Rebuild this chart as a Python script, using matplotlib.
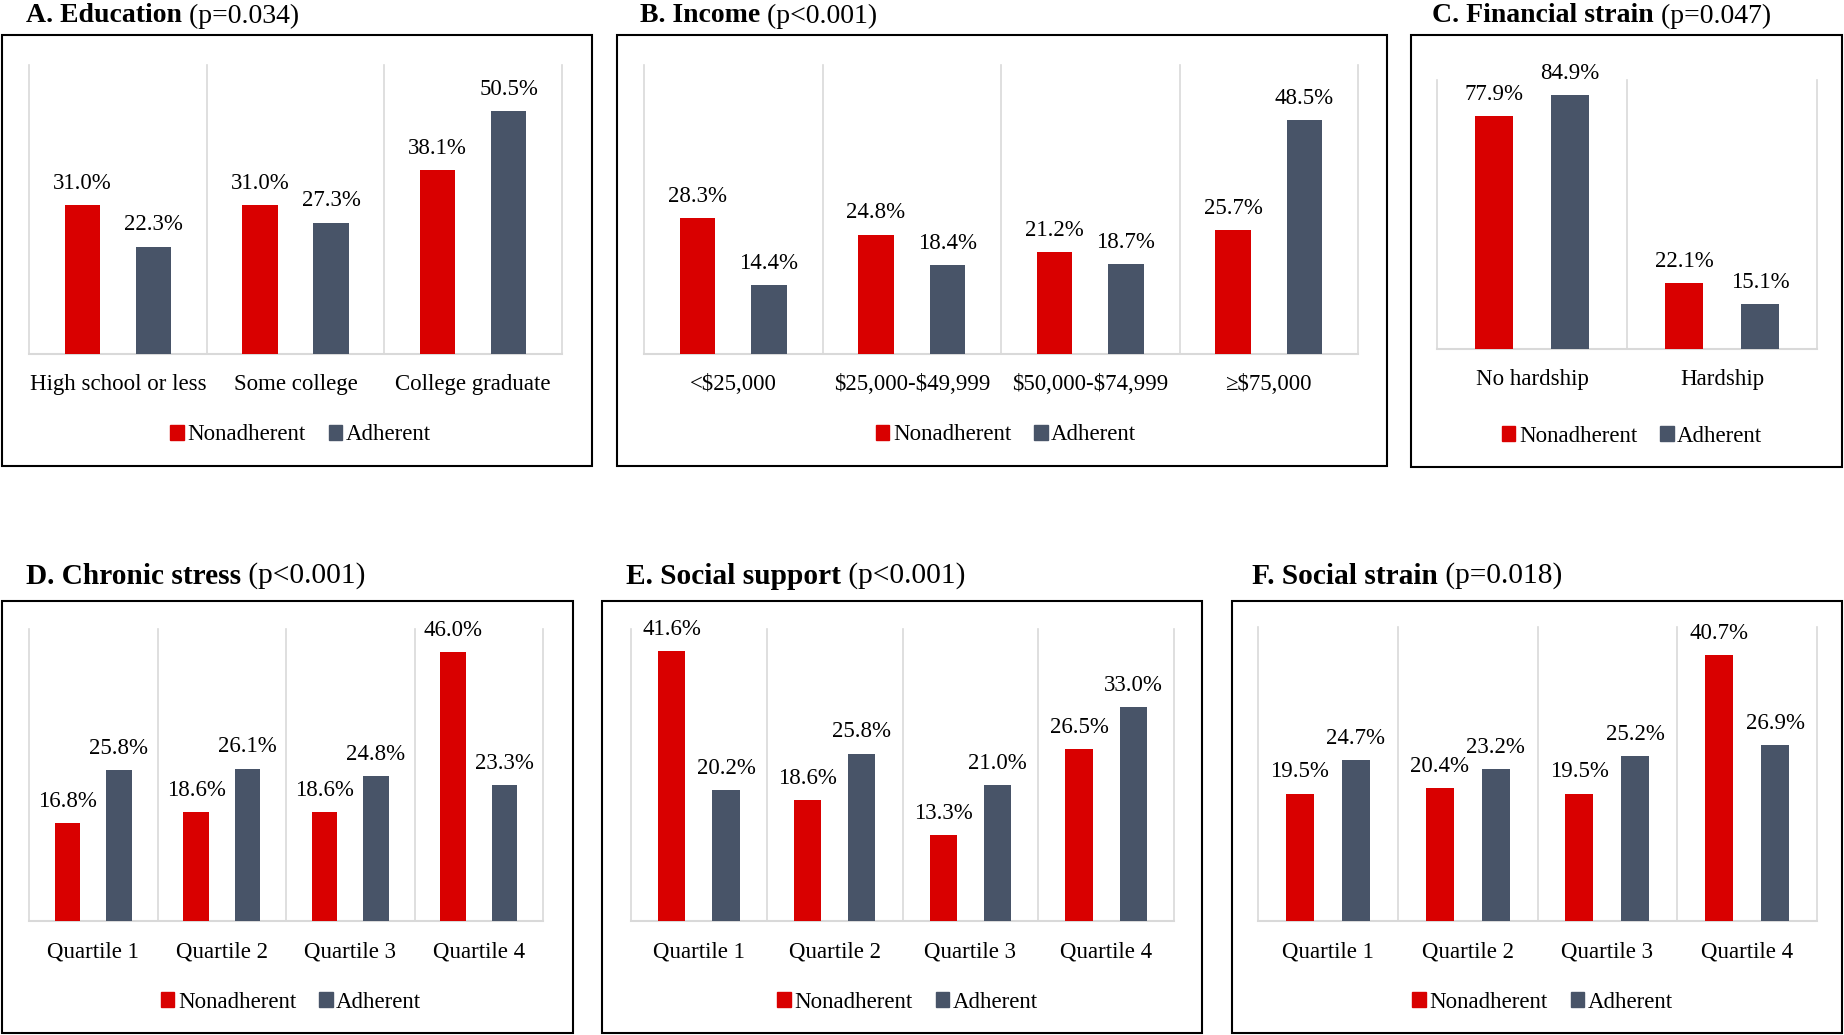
import matplotlib.pyplot as plt
from matplotlib.patches import Rectangle, Patch

plt.rcParams['font.family'] = ['Liberation Serif', 'DejaVu Serif']

W, H = 1844, 1035
RED = '#D90000'
GRAY = '#485468'
GRID = '#D9D9D9'

# data
edu_cats = ['High school or less', 'Some college', 'College graduate']
edu_non = [31.0, 31.0, 38.1]
edu_adh = [22.3, 27.3, 50.5]

inc_cats = [r'<\$25,000', r'\$25,000-\$49,999', r'\$50,000-\$74,999', '\u2265\\$75,000']
inc_non = [28.3, 24.8, 21.2, 25.7]
inc_adh = [14.4, 18.4, 18.7, 48.5]

fin_cats = ['No hardship', 'Hardship']
fin_non = [77.9, 22.1]
fin_adh = [84.9, 15.1]

quart_cats = ['Quartile 1', 'Quartile 2', 'Quartile 3', 'Quartile 4']
stress_non = [16.8, 18.6, 18.6, 46.0]
stress_adh = [25.8, 26.1, 24.8, 23.3]
supp_non = [41.6, 18.6, 13.3, 26.5]
supp_adh = [20.2, 25.8, 21.0, 33.0]
sstrain_non = [19.5, 20.4, 19.5, 40.7]
sstrain_adh = [24.7, 23.2, 25.2, 26.9]

fig = plt.figure(figsize=(W / 100, H / 100), dpi=100)


def px_rect(x0, y0, x1, y1):
    return [x0 / W, 1 - y1 / H, (x1 - x0) / W, (y1 - y0) / H]


def title(x, y, bold, rest, size):
    t = fig.text(x / W, 1 - y / H, bold, fontsize=size, fontweight='bold',
                 va='center', ha='left')
    fig.canvas.draw()
    bb = t.get_window_extent()
    fig.text(bb.x1 / W, 1 - y / H, ' ' + rest, fontsize=size, va='center', ha='left')


def panel(box, plot, ymax, cats, non, adh, ttl):
    fig.add_artist(Rectangle((box[0] / W, 1 - box[3] / H), (box[2] - box[0]) / W,
                             (box[3] - box[1]) / H, transform=fig.transFigure,
                             fill=False, edgecolor='black', linewidth=1.5))
    title(ttl[2], ttl[3], ttl[0], ttl[1], ttl[4])
    ax = fig.add_axes(px_rect(*plot))
    n = len(cats)
    xs = list(range(n))
    ax.bar([x - 0.2 for x in xs], non, width=0.2, color=RED, zorder=3)
    ax.bar([x + 0.2 for x in xs], adh, width=0.2, color=GRAY, zorder=3)
    for x, v in zip(xs, non):
        ax.annotate(f'{v:.1f}%', (x - 0.2, v), xytext=(0, 8), textcoords='offset points',
                    ha='center', va='bottom', fontsize=16.5)
    for x, v in zip(xs, adh):
        ax.annotate(f'{v:.1f}%', (x + 0.2, v), xytext=(0, 8), textcoords='offset points',
                    ha='center', va='bottom', fontsize=16.5)
    for k in range(n + 1):
        ax.plot([k - 0.5, k - 0.5], [0, ymax], color=GRID, lw=1.2, zorder=1, clip_on=False)
    ax.plot([-0.5, n - 0.5], [0, 0], color=GRID, lw=1.5, zorder=2, clip_on=False)
    ax.set_xlim(-0.5, n - 0.5)
    ax.set_ylim(0, ymax)
    ax.set_xticks(xs)
    ax.set_xticklabels(cats, fontsize=16.5)
    ax.tick_params(axis='x', length=0, pad=14.5)
    ax.set_yticks([])
    for s in ax.spines.values():
        s.set_visible(False)
    hgt = plot[3] - plot[1]
    wid = plot[2] - plot[0]
    leg_y = box[3] - 31
    handles = [Patch(color=RED, label='Nonadherent'), Patch(color=GRAY, label='Adherent')]
    ax.legend(handles=handles, loc='center',
              bbox_to_anchor=(0.5 + 5 / wid, -(leg_y - plot[3]) / hgt),
              ncol=2, frameon=False, fontsize=16.5, handlelength=0.6, handleheight=0.6,
              handletextpad=0.15, columnspacing=1.0)
    return ax


panel((2, 35, 592, 466), (29, 65, 562, 354), 60, edu_cats, edu_non, edu_adh,
      ('A. Education', '(p=0.034)', 26, 16, 20))
panel((617, 35, 1387, 466), (644, 65, 1358, 354), 60, inc_cats, inc_non, inc_adh,
      ('B. Income', '(p<0.001)', 640, 16, 20))
panel((1411, 35, 1842, 467), (1437, 80, 1817, 349), 90, fin_cats, fin_non, fin_adh,
      ('C. Financial strain', '(p=0.047)', 1432, 16, 20))
panel((2, 601, 573, 1033), (29, 629, 543, 921), 50, quart_cats, stress_non, stress_adh,
      ('D. Chronic stress', '(p<0.001)', 26, 576, 21.2))
panel((602, 601, 1202, 1033), (631, 629, 1174, 921), 45, quart_cats, supp_non, supp_adh,
      ('E. Social support', '(p<0.001)', 626, 576, 21.2))
panel((1232, 601, 1842, 1033), (1258, 627, 1817, 921), 45, quart_cats, sstrain_non, sstrain_adh,
      ('F. Social strain', '(p=0.018)', 1252, 576, 21.2))

fig.savefig('out.png', dpi=100)
